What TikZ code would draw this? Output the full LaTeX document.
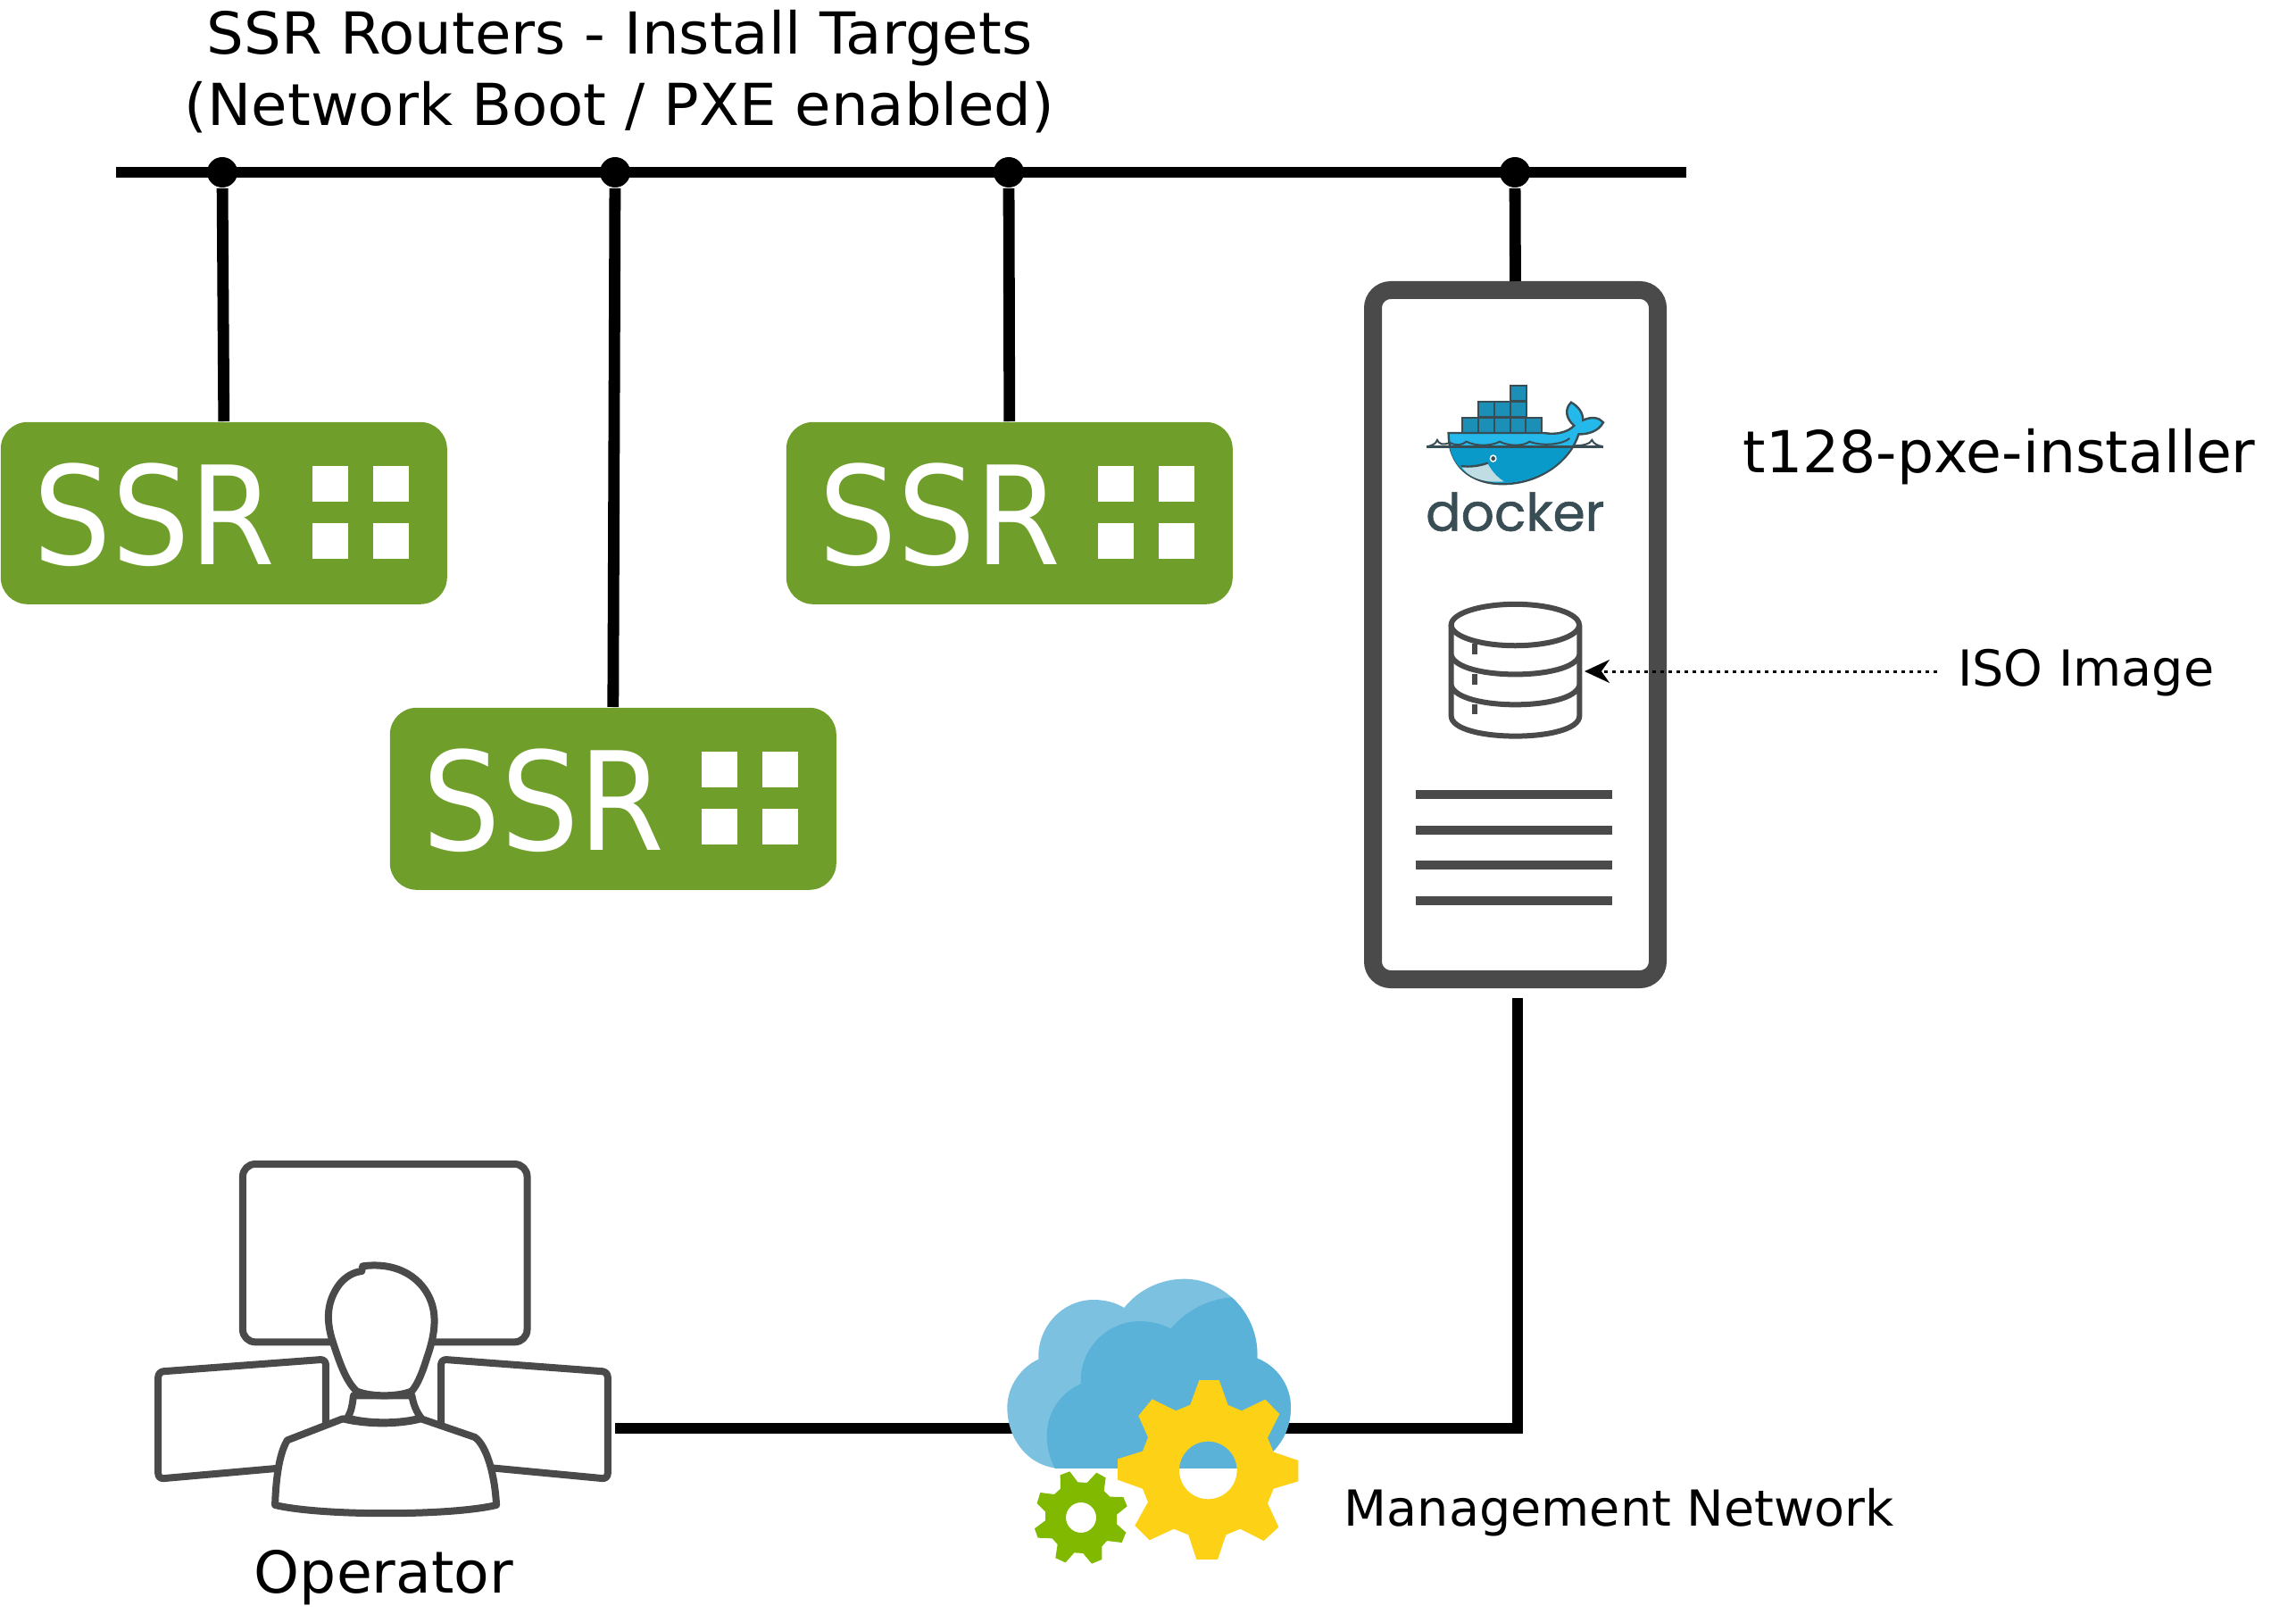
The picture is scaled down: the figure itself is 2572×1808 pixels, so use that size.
\documentclass[tikz,border=0pt]{standalone}
\usepackage{fontspec}
\usepackage{xcolor}
\usepackage{tikz}
\usetikzlibrary{arrows.meta}
\setmainfont{DejaVu Sans}
\newfontfamily\ssrfont[FakeStretch=0.9]{DejaVu Sans}
\newfontfamily\titlefont[FakeStretch=1.015]{DejaVu Sans}
\newfontfamily\dockerfont[FakeBold=1]{Poppins}

\definecolor{ssrgreen}{HTML}{6F9E2A}
\definecolor{icongray}{HTML}{4A4A4A}
\definecolor{cloudlight}{HTML}{7CC2E0}
\definecolor{clouddark}{HTML}{5AB2D9}
\definecolor{gearyellow}{HTML}{FDD116}
\definecolor{geargreen}{HTML}{80B900}
\definecolor{dockerink}{HTML}{394D54}
\definecolor{dockertop}{HTML}{24B8EB}
\definecolor{dockerlow}{HTML}{0A9AC9}
\definecolor{dockerbox}{HTML}{1B8FB5}
\definecolor{dockerbelly}{HTML}{BFDDE3}

\begin{document}
\begin{tikzpicture}[
            x=0.25pt, y=-0.25pt,
            >=Stealth,
            every node/.style={align=center},
            wire/.style={line width=3.2pt, black},
            junction/.style={circle, fill=black, inner sep=0pt, minimum size=8.5pt},
            router/.style={rectangle, rounded corners=7.5pt, fill=ssrgreen, minimum width=125pt, minimum height=51pt, inner sep=0pt},
            bigtext/.style={font=\fontsize{16.2}{20}\selectfont, inner sep=0pt},
            smalltext/.style={font=\fontsize{13.9}{16}\selectfont, inner sep=0pt},
            iconline/.style={line width=2pt, icongray, line join=round},
            dbline/.style={line width=1.5pt, icongray},
            zoomed/.style={x=0.08333pt, y=-0.08333pt},
            zoomedsrv/.style={x=0.08333pt, y=-0.08929pt},
            zoomedop/.style={x=0.0861pt, y=-0.08333pt}
        ]
        \useasboundingbox (0,0) rectangle (2572,1808);

        % Vertical placement of rows
        \def\ybus{193}     % Install network
        \def\ymgmt{1600}   % Management network

        % --- Install network bus ---
        \coordinate (busleft) at (130, \ybus);
        \coordinate (busright) at (1889, \ybus);
        \draw[wire] (busleft) -- (busright);
        \node[junction] (tapI) at (249, \ybus) {};
        \node[junction] (tapII) at (1130, \ybus) {};
        \node[junction] (tapIII) at (689, \ybus) {};
        \node[junction] (tapsrv) at (1697, \ybus) {};

        % --- Routers ---
        \foreach \name/\px/\py in {ssrI/0/472, ssrII/880/472, ssrIII/436/792} {
            \begin{scope}[shift={(\px,\py)}]
                \node[router, anchor=north west] (\name) at (0,0) {};
                \node[anchor=base west, inner sep=0pt, text=white, font=\ssrfont\fontsize{38.3}{40}\selectfont] (\name text) at (37,160) {SSR};
                \foreach \qx in {350, 418}
                    \foreach \qy in {50, 114}
                        \fill[white] (\qx,\qy) rectangle ++(40,40);
            \end{scope}
        }
        \draw[wire] (tapI) -- (ssrI.north);
        \draw[wire] (tapII) -- (ssrII.north);
        \draw[wire] (tapIII) -- (ssrIII.north);

        % --- Server ---
        \node[draw=icongray, fill=white, line width=5pt, rounded corners=5pt, minimum width=79.75pt, minimum height=193pt, inner sep=0pt] (server) at (1697.5, 711) {};
        \draw[wire] (tapsrv) -- (server.north);
        \foreach \yl in {890, 930, 969, 1009}
            \draw[line width=2.5pt, icongray] (1586,\yl) -- (1806,\yl);

        % Docker logo
        \begin{scope}[shift={(1500,300)}, zoomedsrv]
            \foreach \bx/\by in {575/370, 468/420, 522/420, 575/420, 415/470, 468/470, 522/470, 575/470, 628/470}
                \draw[draw=dockerink, fill=dockerbox, line width=0.5pt] (\bx,\by) rectangle ++(54,48);
            \fill[dockertop, draw=dockerink, line width=0.6pt] (368,518) -- (690,518) .. controls (730,525) and (770,515) .. (790,495)
                .. controls (765,475) and (755,445) .. (780,422) .. controls (805,435) and (820,455) .. (820,478)
                .. controls (850,465) and (875,470) .. (888,485) .. controls (870,515) and (835,522) .. (805,522)
                .. controls (780,600) and (680,678) .. (550,678) .. controls (440,678) and (368,620) .. (368,518) -- cycle;
            \fill[dockerlow] (372,562) -- (778,562) .. controls (740,630) and (650,672) .. (550,674) .. controls (450,674) and (385,630) .. (372,562) -- cycle;
            \fill[dockerbelly] (410,622) .. controls (440,625) and (470,622) .. (500,615) .. controls (515,640) and (535,660) .. (555,670) .. controls (500,675) and (440,665) .. (410,622) -- cycle;
            \draw[dockerink, line width=0.6pt] (410,622) .. controls (440,625) and (470,622) .. (500,612);
            \draw[dockerink, line width=0.8pt] (295,562) -- (888,562);
            \draw[dockerink, line width=0.5pt] (300,560) .. controls (320,555) and (325,550) .. (330,540) .. controls (335,552) and (350,558) .. (372,548)
                .. controls (395,560) and (415,555) .. (428,545) .. controls (460,560) and (510,560) .. (540,545)
                .. controls (570,560) and (620,560) .. (640,545) .. controls (680,560) and (750,555) .. (775,535);
            \draw[dockerink, line width=0.5pt] (790,558) .. controls (820,558) and (845,552) .. (850,540) .. controls (855,552) and (870,558) .. (885,560);
            \fill[white] (518,598) circle (12);
            \fill[dockerink] (518,598) circle (7);
            \node[text=dockerink, inner sep=0pt, font=\dockerfont\fontsize{14.6}{14}\selectfont] (dockerword) at (592,765) {docker};
        \end{scope}

        % Disk stack
        \begin{scope}[shift={(1500,300)}, zoomedsrv]
            \draw[dbline] (592,1120) ellipse (215 and 65);
            \draw[dbline] (377,1120) -- (377,1405) .. controls (377,1490) and (808,1490) .. (808,1405) -- (808,1120);
            \draw[dbline] (377,1215) .. controls (400,1295) and (785,1295) .. (808,1215);
            \draw[dbline] (377,1310) .. controls (400,1390) and (785,1390) .. (808,1310);
            \foreach \yt in {1180, 1275, 1368}
                \draw[dbline] (455,\yt) -- ++(0,33);
        \end{scope}
        \coordinate (dbright) at (1775, 752);
        \node[smalltext, anchor=west, outer sep=23*0.25pt] (iso) at (2170, 754) {ISO Image};
        \draw[-{Stealth[length=7pt, width=6.5pt]}, line width=0.75pt, dash pattern=on 1pt off 1.25pt] (iso.west |- dbright) -- (dbright);
        \node[bigtext, anchor=west] (srvname) at (1952, 512) {t128-pxe-installer};

        % --- Title ---
        \node[bigtext, font=\titlefont\fontsize{16.2}{20}\selectfont] (title) at (694, 80) {SSR Routers - Install Targets \\ (Network Boot / PXE enabled)};

        % --- Management network ---
        \coordinate (srvfoot) at (1700, 1118);
        \coordinate (opright) at (689, \ymgmt);
        \coordinate (cloudc) at (1300, \ymgmt);
        \draw[wire] (srvfoot) |- (cloudc);
        \draw[wire] (opright) -- (cloudc);

        % Cloud and gears
        \begin{scope}[shift={(1100,1400)}, zoomed]
            \fill[cloudlight] (270,735) .. controls (165,735) and (85,645) .. (85,530)
                .. controls (85,460) and (130,395) .. (190,368)
                .. controls (185,260) and (270,168) .. (375,168)
                .. controls (415,168) and (450,178) .. (478,195)
                .. controls (525,135) and (600,98) .. (680,98)
                .. controls (815,98) and (930,215) .. (925,365)
                .. controls (990,390) and (1038,455) .. (1038,530)
                .. controls (1038,645) and (950,735) .. (840,735) -- cycle;
            \fill[clouddark] (245,735) .. controls (228,700) and (218,665) .. (218,625)
                .. controls (218,545) and (265,480) .. (333,450)
                .. controls (325,335) and (420,240) .. (530,240)
                .. controls (570,240) and (605,250) .. (635,265)
                .. controls (685,205) and (760,165) .. (840,160)
                .. controls (895,210) and (930,285) .. (925,365)
                .. controls (990,390) and (1038,455) .. (1038,530)
                .. controls (1038,645) and (950,735) .. (840,735) -- cycle;
            \fill[gearyellow, even odd rule] (730,438) -- (797,438) -- (827,522) -- (873,541) -- (952,503) -- (1000,552) -- (960,632) -- (980,680)
                -- (1063,708) -- (1063,778) -- (980,803) -- (960,852) -- (997,932) -- (947,978) -- (868,938) -- (820,958)
                -- (792,1041) -- (721,1041) -- (694,958) -- (645,938) -- (563,976) -- (514,927) -- (558,848) -- (540,803)
                -- (456,773) -- (456,703) -- (540,677) -- (558,630) -- (526,558) -- (572,502) -- (652,541) -- (700,521) -- cycle
                (760,741) circle (97);
            \fill[geargreen, even odd rule] (263,757) -- (295,745) -- (322,781) -- (353,783) -- (385,749) -- (416,766) -- (410,810) -- (430,830)
                -- (475,831) -- (488,862) -- (453,890) -- (453,922) -- (484,950) -- (470,984) -- (420,978) -- (403,997)
                -- (403,1041) -- (369,1055) -- (340,1020) -- (310,1018) -- (281,1051) -- (247,1036) -- (254,990) -- (236,970)
                -- (188,968) -- (177,937) -- (213,910) -- (213,880) -- (185,852) -- (196,816) -- (243,822) -- (264,803) -- cycle
                (333,900) circle (51);
        \end{scope}
        \node[smalltext, anchor=west] (mgmt) at (1505, 1694) {Management Network};

        % --- Operator ---
        \begin{scope}[shift={(160,1280)}, zoomedop]
            \draw[iconline, rounded corners=3.5pt] (325,72) rectangle (1250,670);
            \draw[iconline, rounded corners=1.5pt] (620,1078) -- (50,1130) -- (50,770) -- (595,728) -- (595,1000);
            \draw[iconline, rounded corners=1.5pt] (970,1000) -- (970,728) -- (1512,770) -- (1512,1130) -- (1000,1080);
            % body and head
            \draw[iconline, fill=white] (430,1218) .. controls (432,1150) and (440,1050) .. (470,1000) -- (650,928)
                .. controls (730,948) and (830,948) .. (905,928) -- (1080,990)
                .. controls (1120,1020) and (1145,1120) .. (1150,1218) .. controls (1000,1255) and (580,1255) .. (430,1218) -- cycle;
            \draw[iconline, fill=white] (685,850) .. controls (682,880) and (678,905) .. (665,925) .. controls (730,945) and (840,945) .. (905,925) .. controls (890,905) and (880,880) .. (875,850) -- cycle;
            \draw[iconline, fill=white] (615,660) .. controls (595,590) and (600,530) .. (640,475) .. controls (660,450) and (685,435) .. (712,432)
                -- (715,415) .. controls (860,395) and (945,490) .. (948,590) .. controls (950,640) and (935,690) .. (925,720)
                .. controls (910,770) and (895,810) .. (875,835) .. controls (830,855) and (740,855) .. (695,835)
                .. controls (660,800) and (640,740) .. (615,660) -- cycle;
        \end{scope}
        \node[bigtext] (operator) at (430, 1767) {Operator};

\end{tikzpicture}
\end{document}
